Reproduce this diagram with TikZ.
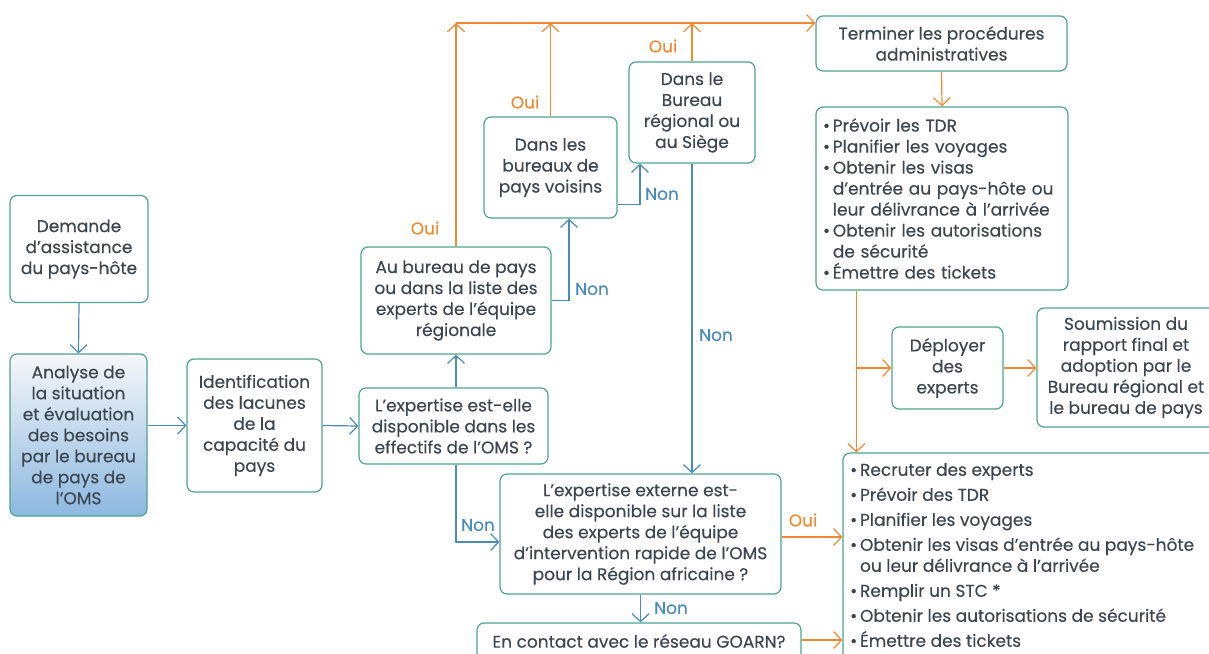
\documentclass[tikz,border=0pt]{standalone}
\usepackage{fontspec}
\setmainfont{Poppins}[FakeBold=0.3]
\usetikzlibrary{arrows.meta,calc}
\definecolor{boxc}{HTML}{4FA391}
\definecolor{txtc}{HTML}{3C4650}
\definecolor{orc}{HTML}{F08A32}
\definecolor{blc}{HTML}{4A8BB8}
\definecolor{gradtop}{HTML}{F6F7F9}
\definecolor{gradbot}{HTML}{8CB8E0}
\begin{document}
\begin{tikzpicture}[x=1pt,y=-1pt,
  font=\fontsize{17}{21}\selectfont,
  box/.style={draw=boxc, line width=1.2pt, rounded corners=7pt, align=center, text=txtc, inner sep=0pt, fill=white},
  arr/.style={line width=1.2pt, -{Straight Barb[length=8pt,width=17pt,line width=1.2pt]}},
  oarr/.style={arr, draw=orc},
  barr/.style={arr, draw=blc},
  olab/.style={text=orc},
  blab/.style={text=blc}]
\useasboundingbox (0,0) rectangle (1209,653);
\clip (0,0) rectangle (1209,653);

\node[box, minimum width=138pt, minimum height=107pt] (demande) at (79,249) {Demande\\d’assistance\\du pays-hôte};
\node[box, fill=none, top color=gradtop, bottom color=gradbot, minimum width=137pt, minimum height=162pt] (analyse) at (78.5,435) {Analyse de\\la situation\\et évaluation\\des besoins\\par le bureau\\de pays de\\l’OMS};
\node[box, minimum width=135pt, minimum height=133pt] (ident) at (254.5,425.5) {Identification\\des lacunes\\de la\\capacité du\\pays};
\node[box, minimum width=189pt, minimum height=76pt] (expq) at (453.5,426) {L’expertise est-elle\\disponible dans les\\effectifs de l’OMS ?};
\node[box, minimum width=190pt, minimum height=107pt] (aubur) at (456,300.5) {Au bureau de pays\\ou dans la liste des\\experts de l’équipe\\régionale};
\node[box, minimum width=133pt, minimum height=101pt] (voisins) at (550.5,167.5) {Dans les\\bureaux de\\pays voisins};
\node[box, minimum width=126pt, minimum height=101pt] (regional) at (692,112.5) {Dans le\\Bureau\\régional ou\\au Siège};
\node[box, minimum width=251pt, minimum height=55pt] (terminer) at (941.5,43.5) {Terminer les procédures\\administratives};
\node[box, minimum width=252pt, minimum height=183pt, align=left, text width=238pt] (prevoir) at (942,198.5) {•\,Prévoir les TDR\\•\,Planifier les voyages\\•\,Obtenir les visas\\\phantom{•\,}d’entrée au pays-hôte ou\\\phantom{•\,}leur délivrance à l’arrivée\\•\,Obtenir les autorisations\\\phantom{•\,}de sécurité\\•\,Émettre des tickets};
\node[box, minimum width=111pt, minimum height=82pt] (deploy) at (947.5,368) {Déployer\\des\\experts};
\node[box, minimum width=178pt, minimum height=119pt] (soum) at (1126,367.5) {Soumission du\\rapport final et\\adoption par le\\Bureau régional et\\le bureau de pays};
\node[box, minimum width=400pt, minimum height=250pt] (recr) at (1043,578) {};
\node[anchor=north west, align=left, text=txtc, inner sep=0pt] (recrtxt) at (850,463) {•\,Recruter des experts\\[4pt]•\,Prévoir des TDR\\[4pt]•\,Planifier les voyages\\[4pt]•\,Obtenir les visas d’entrée au pays-hôte\\\phantom{•\,}ou leur délivrance à l’arrivée\\[4pt]•\,Remplir un STC *\\[4pt]•\,Obtenir les autorisations de sécurité\\[4pt]•\,Émettre des tickets};
\node[box, minimum width=281pt, minimum height=120pt] (externe) at (640.5,534) {L’expertise externe est-\\elle disponible sur la liste\\des experts de l’équipe\\d’intervention rapide de l’OMS\\pour la Région africaine ?};
\node[box, minimum width=324pt, minimum height=40pt] (goarn) at (639,643) {\raisebox{4pt}{En contact avec le réseau GOARN?}};

\coordinate (bus) at (0,23);
\coordinate (pdrop) at ([xshift=41pt]prevoir.south west);

% blue connectors
\draw[barr] (demande.south) -- (analyse.north);
\draw[barr] (ident.west -| analyse.east) -- (ident.west);
\draw[barr] (ident.east) -- (expq.west);
\draw[barr] (aubur.south |- expq.north) -- (aubur.south);
\draw[barr] (aubur.east) -| ([xshift=18.5pt]voisins.south);
\draw[barr] ([yshift=14pt]voisins.south east) -| ([xshift=-52pt]regional.south);
\draw[barr] (regional.south) -- (regional.south |- externe.north);
\draw[barr] (aubur.south |- expq.south) |- ([yshift=-8pt]externe.west);
\draw[barr] (externe.south) -- (externe.south |- goarn.north);

% orange connectors
\draw[oarr] (voisins.north) -- (voisins.north |- bus);
\draw[oarr] (regional.north) -- (regional.north |- bus);
\draw[oarr] (aubur.north |- bus) -- (bus -| terminer.west);
\draw[oarr] (aubur.north) -- (aubur.north |- bus);
\draw[oarr] (terminer.south) -- (prevoir.north);
\draw[oarr] (pdrop) -- (pdrop |- recr.north);
\draw[oarr] (pdrop |- deploy.west) -- (deploy.west);
\draw[oarr] (deploy.east) -- (deploy.east -| soum.west);
\draw[oarr] ([yshift=-3pt]externe.east) -- ([yshift=-3pt]externe.east -| recr.west);
\draw[oarr] ([yshift=3pt]goarn.east) -- ([yshift=3pt]goarn.east -| recr.west);

% labels
\node[olab] (l1) at (425,228) {Oui};
\node[olab] (l2) at (525,102) {Oui};
\node[olab] (l3) at (663,46) {Oui};
\node[olab] (l4) at (803,520) {Oui};
\node[blab] (n1) at (592,289) {Non};
\node[blab] (n2) at (662,194) {Non};
\node[blab] (n3) at (716,335) {Non};
\node[blab] (n4) at (478,525) {Non};
\node[blab] (n5) at (671,608) {Non};
\end{tikzpicture}
\end{document}
